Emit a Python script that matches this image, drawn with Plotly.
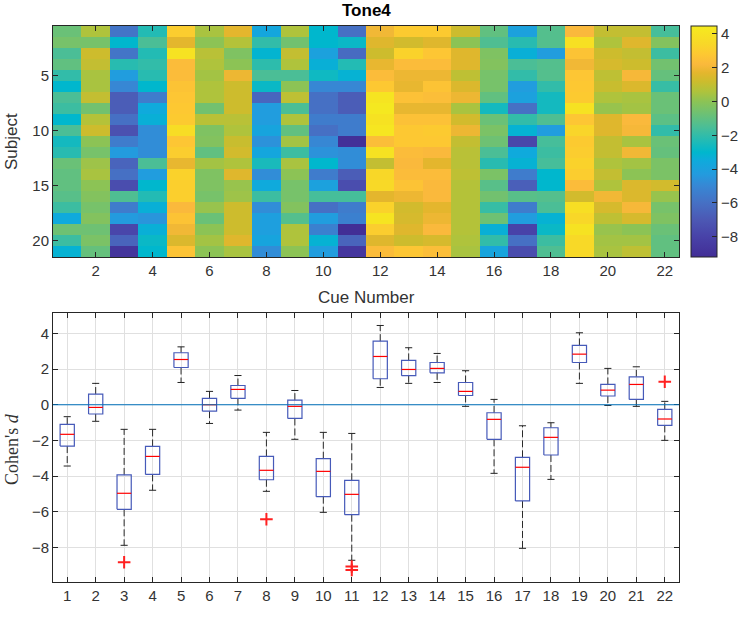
import plotly.graph_objects as go

# ---------------- data ----------------
cues = list(range(1, 23))
subjects = list(range(1, 22))

# heatmap values (Cohen's d) per cue, subjects 1..21 (top to bottom)
cue_1 = [-0.8, -0.5, -1.5, -1.0, -2.0, -3.0, -1.5, -1.8, -3.0, -1.5, -2.6, -2.2, -0.8, -1.0, -1.0, -1.2, -1.8, -3.5, -0.7, -1.8, -3.2]
cue_2 = [0.6, -0.5, 1.2, 1.0, 0.5, 0.5, 1.0, -0.6, 0.7, 1.2, 0.0, -0.5, 0.3, 0.5, 0.0, -0.2, -0.5, -0.2, -0.7, -0.4, -0.9]
cue_3 = [-5.8, -3.0, -5.8, -2.2, -4.2, -5.0, -6.8, -6.8, -6.0, -7.3, -5.5, -4.3, -6.5, -6.0, -7.5, -1.4, -5.5, -4.3, -7.8, -6.5, -8.8]
cue_4 = [-2.3, -1.5, -2.3, -2.0, -2.2, -3.0, -5.5, -3.5, -3.3, -4.8, -4.8, -4.8, -1.5, -4.2, -3.0, -2.3, -3.3, -4.5, -3.3, -2.8, -3.0]
cue_5 = [3.0, 1.7, 4.0, 2.3, 2.3, 2.6, 2.7, 2.8, 2.9, 3.7, 2.7, 3.0, 1.8, 3.2, 3.1, 3.1, 2.2, 2.6, 2.0, 1.5, 2.6]
cue_6 = [0.5, 0.0, 0.8, 0.6, 0.4, 0.6, 0.6, -0.6, 0.8, -0.3, -0.2, -1.0, 0.4, -0.3, -0.3, -0.5, 0.2, -0.8, 0.0, 0.4, 0.0]
cue_7 = [1.7, 0.7, -0.3, 0.0, 1.9, 1.2, 1.2, 1.2, 0.8, 0.6, 1.1, 1.3, 0.6, 1.6, 0.2, 0.3, 1.2, 1.2, 1.2, 1.6, 0.5]
cue_8 = [-3.7, -2.0, -3.1, -2.1, -1.5, -2.8, -6.4, -4.2, -4.2, -3.8, -4.6, -3.7, -2.5, -4.8, -3.5, -1.8, -4.8, -4.1, -4.1, -3.8, -4.8]
cue_9 = [0.6, -0.6, 1.0, 0.6, -1.5, 0.0, 0.9, -1.5, 0.6, -1.0, 0.4, -1.8, 0.5, 0.0, -0.5, -0.5, -0.2, -1.3, 0.6, 0.6, 0.0]
cue_10 = [-3.0, -3.0, -4.0, -3.3, -2.7, -5.0, -6.0, -6.0, -5.5, -6.0, -5.0, -4.6, -3.0, -5.5, -4.0, -1.6, -6.0, -4.2, -5.3, -3.2, -4.2]
cue_11 = [-6.0, -2.8, -6.2, -2.3, -3.2, -5.0, -6.8, -6.8, -5.5, -5.5, -9.1, -4.8, -4.8, -6.8, -7.5, -1.6, -5.5, -5.3, -9.3, -6.5, -8.7]
cue_12 = [2.0, 1.6, 1.2, 1.8, 2.3, 2.8, 4.1, 4.3, 4.0, 4.2, 2.4, 4.0, 1.0, 3.4, 3.5, 1.7, 3.2, 4.1, 3.0, 1.6, 2.3]
cue_13 = [2.9, 1.3, 3.2, 2.3, 1.9, 1.8, 2.5, 1.8, 2.5, 2.8, 2.8, 2.3, 2.2, 2.3, 2.6, 1.9, 1.3, 1.4, 1.6, 1.2, 2.7]
cue_14 = [2.9, 1.6, 2.7, 2.3, 1.9, 2.6, 2.4, 1.8, 2.5, 2.9, 2.8, 2.2, 1.7, 2.3, 2.2, 2.2, 1.7, 1.9, 2.2, 1.4, 2.4]
cue_15 = [1.2, 0.0, 1.6, 1.6, 0.9, 1.5, 1.9, 0.5, 1.3, 1.9, 1.0, 0.8, 0.8, 0.9, 0.7, 0.7, 0.7, 0.7, 0.7, 0.6, 0.5]
cue_16 = [-1.0, -1.4, -0.3, -0.2, -0.5, -0.5, -1.0, -2.6, -0.8, -0.4, -0.7, -1.5, -2.2, -0.4, -1.2, -0.6, -1.9, -0.7, -3.3, -2.0, -3.8]
cue_17 = [-4.0, -2.2, -3.3, -1.5, -2.0, -4.2, -4.0, -6.0, -2.0, -3.2, -7.8, -3.5, -3.2, -5.5, -6.7, -1.2, -5.5, -4.2, -8.0, -6.0, -7.5]
cue_18 = [-1.3, -1.3, -4.2, -1.3, -1.3, -2.0, -2.6, -2.6, -1.4, -4.2, -1.6, -1.8, -1.6, -3.0, -3.0, -1.3, -1.5, -3.2, -2.8, -1.8, -1.4]
cue_19 = [2.2, 3.9, 2.6, 2.0, 2.7, 2.8, 2.9, 4.0, 2.7, 3.3, 2.9, 3.0, 3.2, 3.0, 2.3, 1.3, 3.8, 3.4, 4.0, 3.5, 3.5]
cue_20 = [1.0, 0.6, 1.2, 1.4, 0.9, 1.1, 0.6, 0.2, 1.6, 1.6, 1.0, 1.0, 0.6, 1.0, 0.6, 2.0, 1.4, 0.9, 0.2, 0.4, 0.5]
cue_21 = [1.0, 1.6, 1.0, 1.2, 2.1, 1.5, 0.5, 0.4, 2.2, 2.1, 0.5, 2.0, 0.4, 0.0, 1.5, 1.5, 2.1, 1.4, 0.0, 0.4, 0.9]
cue_22 = [-1.6, -0.2, -1.8, -0.6, -0.9, -1.9, -0.8, -0.8, -1.1, -2.0, -0.8, -0.9, -0.4, -0.4, 1.3, 0.2, -0.5, -0.3, -0.8, -1.0, -1.0]

# boxplot statistics
box_q1 = [-2.32, -0.52, -5.87, -3.91, 2.09, -0.36, 0.36, -4.21, -0.77, -5.16, -6.17,
          1.46, 1.63, 1.79, 0.52, -1.94, -5.40, -2.82, 2.37, 0.49, 0.30, -1.16]
box_med = [-1.66, -0.15, -4.97, -2.90, 2.54, 0.00, 0.86, -3.68, -0.09, -3.74, -5.03,
           2.71, 1.98, 2.04, 0.75, -0.82, -3.51, -1.83, 2.84, 0.82, 1.14, -0.80]
box_q3 = [-1.10, 0.60, -3.94, -2.34, 2.92, 0.36, 1.08, -2.90, 0.26, -3.03, -4.24,
          3.57, 2.49, 2.37, 1.25, -0.45, -2.95, -1.29, 3.33, 1.14, 1.57, -0.26]
whisk_lo = [-3.44, -0.93, -7.89, -4.80, 1.25, -1.05, -0.30, -4.86, -1.94, -6.04, -8.73,
            0.97, 1.20, 1.25, -0.09, -3.85, -8.06, -4.19, 1.20, -0.04, -0.09, -2.00]
whisk_hi = [-0.67, 1.20, -1.38, -1.38, 3.25, 0.75, 1.64, -1.55, 0.80, -1.55, -1.61,
            4.45, 3.20, 2.88, 1.91, 0.30, -1.18, -1.01, 4.04, 2.04, 2.13, 0.19]
outlier_cue = [3, 8, 11, 11, 22]
outlier_val = [-8.84, -6.43, -9.08, -9.27, 1.29]

heat_ticks_x = [2, 4, 6, 8, 10, 12, 14, 16, 18, 20, 22]
heat_ticks_y = [5, 10, 15, 20]
box_ticks_y = [-8, -6, -4, -2, 0, 2, 4]
cbar_ticks = [-8, -6, -4, -2, 0, 2, 4]

# ---------------- build ----------------
cols = [cue_1, cue_2, cue_3, cue_4, cue_5, cue_6, cue_7, cue_8, cue_9, cue_10, cue_11,
        cue_12, cue_13, cue_14, cue_15, cue_16, cue_17, cue_18, cue_19, cue_20, cue_21, cue_22]
z = [[col[r] for col in cols] for r in range(len(subjects))]

ZMIN, ZMAX = -9.2, 4.47
# colour stops (value, rgb) sampled from the reference colour bar
cmap_stops = [
    (-9.2, (66, 46, 150)), (-8.0, (72, 66, 168)), (-7.0, (76, 88, 180)), (-6.0, (70, 112, 196)),
    (-5.0, (55, 135, 212)), (-4.3, (35, 155, 222)), (-3.5, (15, 170, 220)), (-3.0, (0, 183, 205)),
    (-2.3, (35, 187, 180)), (-1.5, (75, 190, 150)), (-0.7, (110, 193, 115)), (0.0, (140, 195, 85)),
    (0.6, (175, 195, 60)), (1.2, (205, 188, 45)), (1.7, (228, 182, 45)), (2.2, (250, 185, 60)),
    (2.8, (253, 200, 50)), (3.4, (248, 215, 40)), (4.47, (245, 235, 30))]
colorscale = [[(v - ZMIN) / (ZMAX - ZMIN), "rgb(%d,%d,%d)" % c] for v, c in cmap_stops]

W, H = 748, 617
def px_x(p):
    return p / W
def px_y(p):
    return 1 - p / H

FONT = "Liberation Sans, Arial, Helvetica, sans-serif"
TXT = "#333333"
AX = "#262626"

fig = go.Figure()

fig.add_trace(go.Heatmap(
    z=z, x=cues, y=subjects, colorscale=colorscale, zmin=ZMIN, zmax=ZMAX,
    xaxis="x", yaxis="y", showscale=True,
    colorbar=dict(x=px_x(691), xanchor="left", y=px_y(26), yanchor="top",
                  lenmode="pixels", len=231, thicknessmode="pixels", thickness=26,
                  outlinecolor=AX, outlinewidth=1, ticks="inside", ticklen=5,
                  tickcolor=AX, tickvals=cbar_ticks, tickfont=dict(family=FONT, size=15, color=TXT),
                  xpad=0, ypad=0)))

# boxes
bw = 0.25
bx, by = [], []
mx, my = [], []
wx, wy = [], []
cx, cy = [], []
for i, c in enumerate(cues):
    bx += [c - bw, c + bw, c + bw, c - bw, c - bw, None]
    by += [box_q1[i], box_q1[i], box_q3[i], box_q3[i], box_q1[i], None]
    mx += [c - bw, c + bw, None]
    my += [box_med[i], box_med[i], None]
    wx += [c, c, None, c, c, None]
    wy += [box_q3[i], whisk_hi[i], None, box_q1[i], whisk_lo[i], None]
    cx += [c - bw / 2, c + bw / 2, None, c - bw / 2, c + bw / 2, None]
    cy += [whisk_hi[i], whisk_hi[i], None, whisk_lo[i], whisk_lo[i], None]

fig.add_trace(go.Scatter(x=wx, y=wy, mode="lines", xaxis="x2", yaxis="y2",
                         line=dict(color="#2a2a2a", width=1, dash="7px,3px"), hoverinfo="skip", showlegend=False))
fig.add_trace(go.Scatter(x=cx, y=cy, mode="lines", xaxis="x2", yaxis="y2",
                         line=dict(color="#222222", width=1), hoverinfo="skip", showlegend=False))
fig.add_trace(go.Scatter(x=bx, y=by, mode="lines", xaxis="x2", yaxis="y2",
                         line=dict(color="rgb(70,90,185)", width=1.2), hoverinfo="skip", showlegend=False))
fig.add_trace(go.Scatter(x=mx, y=my, mode="lines", xaxis="x2", yaxis="y2",
                         line=dict(color="#ff0000", width=1.2), hoverinfo="skip", showlegend=False))
fig.add_trace(go.Scatter(x=outlier_cue, y=outlier_val, mode="markers", xaxis="x2", yaxis="y2",
                         marker=dict(symbol="cross-thin", size=9, line=dict(color="#ff2020", width=2)),
                         hoverinfo="skip", showlegend=False))

axis_common = dict(showline=True, linecolor=AX, linewidth=1, mirror="ticks", ticks="inside",
                   ticklen=5, tickcolor=AX, tickfont=dict(family=FONT, size=15, color=TXT), zeroline=False)

fig.update_layout(
    width=W, height=H, margin=dict(l=0, r=0, t=0, b=0),
    paper_bgcolor="white", plot_bgcolor="white", showlegend=False,
    xaxis=dict(domain=[px_x(53), px_x(679)], anchor="y", range=[0.5, 22.5], tickvals=heat_ticks_x,
               showgrid=False, **axis_common),
    yaxis=dict(domain=[px_y(257), px_y(26)], anchor="x", range=[21.5, 0.5], tickvals=heat_ticks_y,
               showgrid=False, **axis_common),
    xaxis2=dict(domain=[px_x(53), px_x(679)], anchor="y2", range=[0.5, 22.5], tickvals=cues,
                showgrid=True, gridcolor="#e0e0e0", gridwidth=1, **axis_common),
    yaxis2=dict(domain=[px_y(582), px_y(313)], anchor="x2", range=[-9.95, 5.15], tickvals=box_ticks_y,
                showgrid=True, gridcolor="#e0e0e0", gridwidth=1, **axis_common),
    shapes=[dict(type="line", xref="x2 domain", x0=0, x1=1, yref="y2", y0=0, y1=0,
                 line=dict(color="#0072BD", width=1.2), layer="above")],
    annotations=[
        dict(text="<b>Tone4</b>", x=px_x(366), y=px_y(11), xref="paper", yref="paper",
             showarrow=False, font=dict(family=FONT, size=17, color="#000000"), xanchor="center", yanchor="middle"),
        dict(text="Cue Number", x=px_x(366), y=px_y(297), xref="paper", yref="paper",
             showarrow=False, font=dict(family=FONT, size=17, color=TXT), xanchor="center", yanchor="middle"),
        dict(text="Subject", x=px_x(12), y=px_y(142), xref="paper", yref="paper", textangle=-90,
             showarrow=False, font=dict(family=FONT, size=17, color=TXT), xanchor="center", yanchor="middle"),
        dict(text="Cohen's <i>d</i>", x=px_x(12), y=px_y(449), xref="paper", yref="paper", textangle=-90,
             showarrow=False, font=dict(family="Liberation Serif, Times New Roman, serif", size=18, color=TXT),
             xanchor="center", yanchor="middle"),
    ],
)

fig.write_html("out.html", config={"displayModeBar": False},
               post_script="document.body.style.margin='0';document.body.style.overflow='hidden';")
